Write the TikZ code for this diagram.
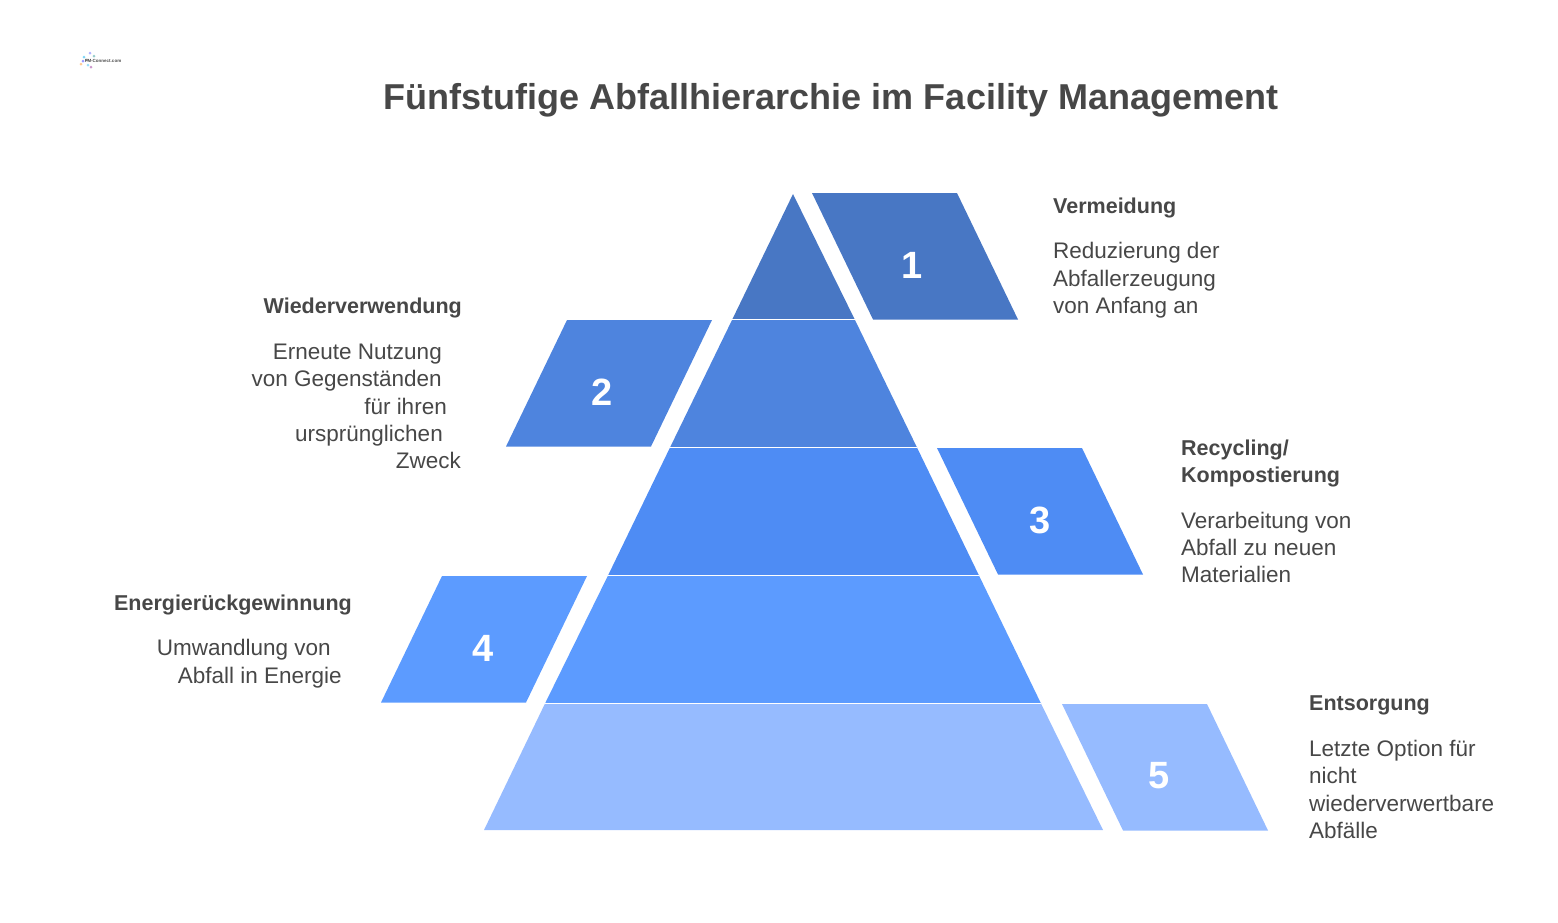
\documentclass[tikz,border=0pt]{standalone}
\usepackage{fontspec}
\setmainfont{Liberation Sans}
\definecolor{stufeA}{HTML}{4877C4}
\definecolor{stufeB}{HTML}{4E84DE}
\definecolor{stufeC}{HTML}{4E8CF4}
\definecolor{stufeD}{HTML}{5C9BFF}
\definecolor{stufeE}{HTML}{96BBFF}
\definecolor{schrift}{HTML}{474747}
\tikzset{
  zahl/.style={text=white,inner sep=0pt,font=\fontsize{38}{38}\selectfont\bfseries},
  titel/.style={text=schrift,inner sep=0pt,anchor=base,font=\fontsize{36}{36}\selectfont\bfseries},
  kopf/.style={text=schrift,inner sep=0pt,yshift=.7pt,font=\fontsize{21.5}{21.5}\selectfont\bfseries},
  zeile/.style={text=schrift,inner sep=0pt,yshift=.7pt,font=\fontsize{22.5}{22.5}\selectfont},
}
\begin{document}
\begin{tikzpicture}[x=1pt,y=-1pt]
\useasboundingbox (0,0) rectangle (1558,922);
\pgfmathsetmacro{\kdx}{145}
\pgfmathsetmacro{\kdy}{126.5}
\pgfmathsetmacro{\kshift}{61}
% pyramid
\fill[stufeA](793,194)--(855,320)--(732,320)--cycle;
\fill[stufeB](732,320)--(855,320)--(917,447.5)--(670,447.5)--cycle;
\fill[stufeC](670,447.5)--(917,447.5)--(979,575.5)--(608,575.5)--cycle;
\fill[stufeD](608,575.5)--(979,575.5)--(1041,703.5)--(545,703.5)--cycle;
\fill[stufeE](545,703.5)--(1041,703.5)--(1103,830)--(484,830)--cycle;
\foreach \y/\a/\b in {319.5/732/855,447/670/917,575/608/979,703/545/1041}{\draw[white,line width=1pt](\a,\y)--(\b,\y);}
% tabs
\foreach \x/\y/\c/\n/\m in {812/193/stufeA/1/100,937/448/stufeC/3/103,1062/704/stufeE/5/97}{
\fill[\c](\x,\y)--++(\kdx,0)--++(\kshift,\kdy)--++(-\kdx,0)--cycle;
\node[zahl](z\n) at (\x+\m,\y+72){\n};
}
\foreach \x/\y/\c/\n/\m in {567/320/stufeB/2/35,442/576/stufeD/4/41.5}{
\fill[\c](\x,\y)--++(\kdx,0)--++(-\kshift,\kdy)--++(-\kdx,0)--cycle;
\node[zahl](z\n) at (\x+\m,\y+72){\n};
}
% title
\node[titel](titel) at (831,109){Fünfstufige Abfallhierarchie im Facility Management};
% right labels
\foreach \x/\y/\t [count=\i] in {1053/214/Vermeidung,1181/456/{Recycling/},1181/483/Kompostierung,1309/711/Entsorgung}{
\node[kopf,anchor=base west](kr\i) at (\x,\y){\t};
}
\foreach \x/\y/\t [count=\i] in {1053/259/Reduzierung der,1053/287/Abfallerzeugung,1053/314/von Anfang an,1181/529/Verarbeitung von,1181/556/Abfall zu neuen,1181/583/Materialien,1309/757/Letzte Option für,1309/784/nicht,1309/812/wiederverwertbare,1309/839/Abfälle}{
\node[zeile,anchor=base west](zr\i) at (\x,\y){\t};
}
% left labels
\node[kopf,anchor=base east](kl1) at (462,314){Wiederverwendung};
\node[kopf,anchor=base east](kl2) at (352,611){Energierückgewinnung};
\foreach \x/\y/\t [count=\i] in {442/360/Erneute Nutzung,442/387/von Gegenständen,447/415/für ihren,443/442/ursprünglichen,461/469/Zweck,331/656/Umwandlung von,342/684/Abfall in Energie}{
\node[zeile,anchor=base east](zl\i) at (\x,\y){\t};
}
% logo
\foreach \x/\y/\c in {84/57/cyan!50,90/53/blue!30,81/64/orange!40,91/67/violet!40,87/60/gray!70,94/56/teal!40,83/61/blue!40,88/65/cyan!40}{
\fill[\c](\x,\y) circle (1.5);
}
\node[text=black!70,inner sep=0pt,font=\fontsize{4.5}{4.5}\selectfont\bfseries](logo) at (103,61){FM-Connect.com};
\end{tikzpicture}
\end{document}
